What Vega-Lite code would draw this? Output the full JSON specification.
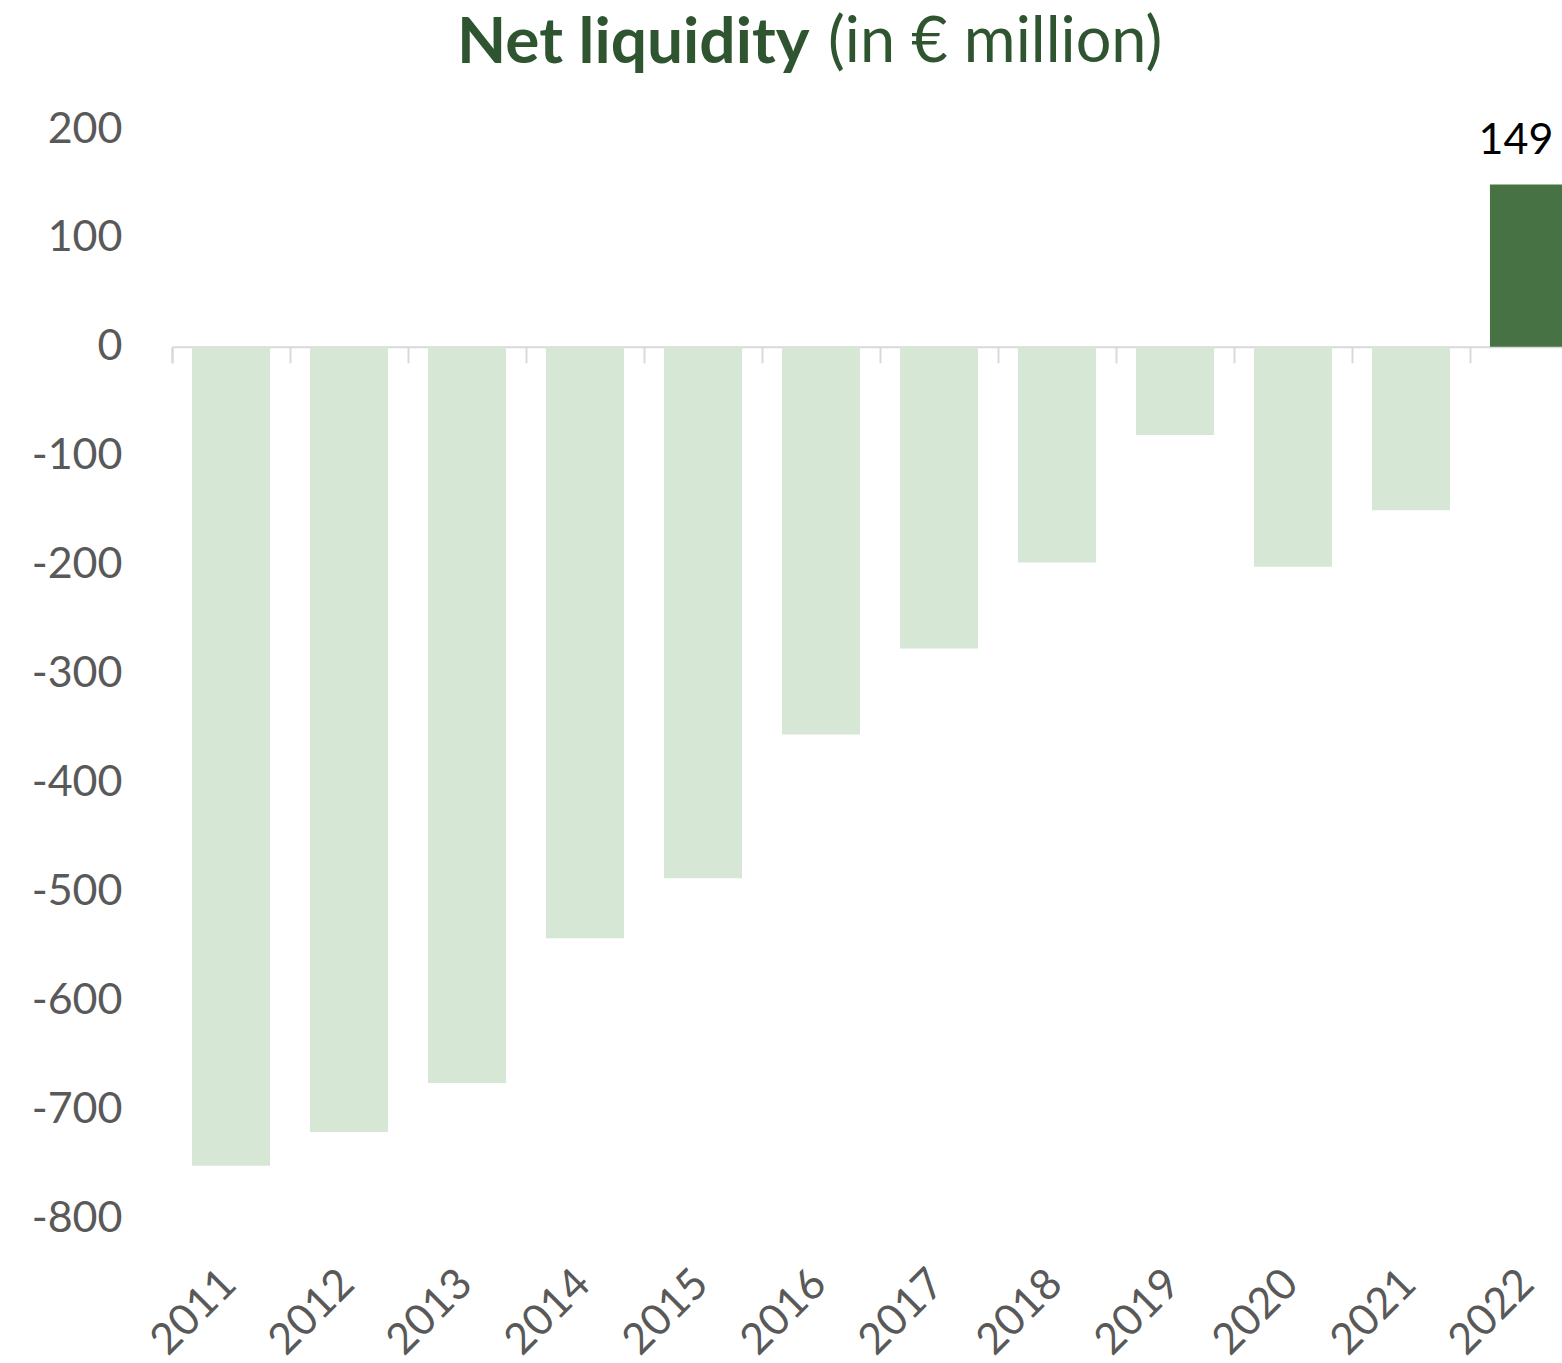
{
  "$schema": "https://vega.github.io/schema/vega-lite/v6.json",
  "autosize": {"type": "none"},
  "width": 1390,
  "height": 1089,
  "padding": {"left": 172, "top": 129, "right": 0, "bottom": 145},
  "background": "white",
  "config": {"view": {"stroke": null}, "font": "Lato"},
  "title": {
    "text": "Net liquidity",
    "subtitle": "\u200b\u00a0\u00a0\u00a0\u00a0\u00a0\u00a0\u00a0\u00a0\u00a0\u00a0\u00a0\u00a0\u00a0\u00a0\u00a0\u00a0\u00a0\u00a0\u00a0\u00a0\u00a0\u00a0\u00a0(in € million)",
    "anchor": "start",
    "frame": "group",
    "dx": 285,
    "offset": 32,
    "font": "Lato",
    "fontSize": 64,
    "fontWeight": "bold",
    "color": "#2e5430",
    "subtitleFont": "Lato",
    "subtitleFontSize": 63,
    "subtitleFontWeight": "normal",
    "subtitleColor": "#2e5430",
    "subtitlePadding": -64
  },
  "data": {
    "values": [
      {"year": "2011", "value": -752},
      {"year": "2012", "value": -721},
      {"year": "2013", "value": -676},
      {"year": "2014", "value": -543},
      {"year": "2015", "value": -488},
      {"year": "2016", "value": -356},
      {"year": "2017", "value": -277},
      {"year": "2018", "value": -198},
      {"year": "2019", "value": -81},
      {"year": "2020", "value": -202},
      {"year": "2021", "value": -150},
      {"year": "2022", "value": 149}
    ]
  },
  "layer": [
    {
      "mark": {"type": "bar"},
      "encoding": {
        "x": {
          "field": "year",
          "type": "nominal",
          "sort": null,
          "scale": {"range": [0, 1416], "paddingInner": 0.339, "paddingOuter": 0.17},
          "axis": {
            "orient": "bottom",
            "offset": -871.2,
            "title": null,
            "grid": false,
            "labelAngle": -45,
            "labelFont": "Lato",
            "labelFontSize": 43,
            "labelColor": "#595959",
            "labelPadding": 899,
            "labelOffset": 3,
            "labelOverlap": false,
            "bandPosition": 0,
            "tickOffset": -20,
            "tickExtra": true,
            "ticks": true,
            "tickSize": 16,
            "tickColor": "#d9d9d9",
            "tickWidth": 2,
            "domain": true,
            "domainColor": "#d9d9d9",
            "domainWidth": 2
          }
        },
        "y": {
          "field": "value",
          "type": "quantitative",
          "scale": {"domain": [-800, 200], "nice": false},
          "axis": {
            "title": null,
            "values": [-800, -700, -600, -500, -400, -300, -200, -100, 0, 100, 200],
            "labelExpr": "'' + datum.value",
            "ticks": false,
            "domain": false,
            "grid": false,
            "labelFont": "Lato",
            "labelFontSize": 43,
            "labelColor": "#595959",
            "labelPadding": 50
          }
        },
        "color": {
          "condition": {"test": "datum.year === '2022'", "value": "#467244"},
          "value": "#d6e7d5"
        }
      }
    },
    {
      "transform": [{"filter": "datum.year === '2022'"}],
      "mark": {"type": "text", "font": "Lato", "fontSize": 43, "color": "#000000", "baseline": "alphabetic", "dy": -31, "dx": -13},
      "encoding": {
        "x": {"field": "year", "type": "nominal", "sort": null},
        "y": {"field": "value", "type": "quantitative"},
        "text": {"field": "value", "type": "quantitative"}
      }
    }
  ]
}
